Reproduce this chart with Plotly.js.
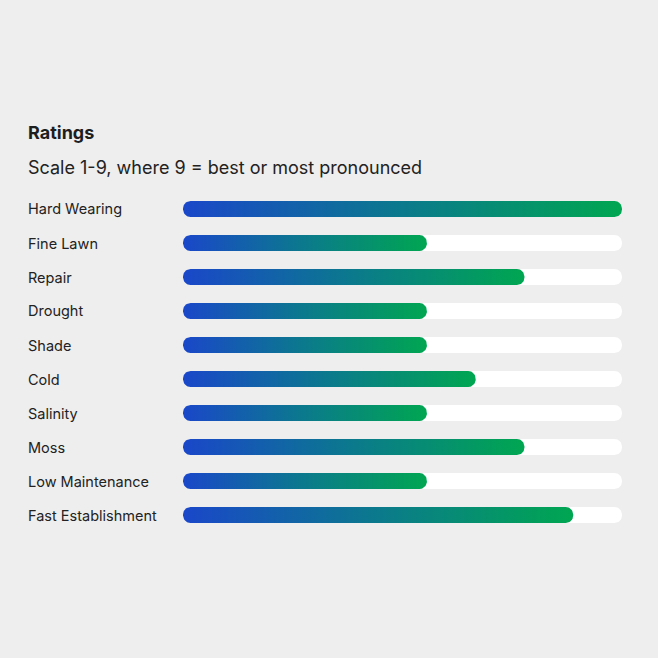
<!DOCTYPE html>
<html>
<head>
<meta charset="utf-8">
<script src="https://cdn.plot.ly/plotly-3.0.1.min.js"></script>
<style>
  html, body { margin: 0; padding: 0; background: #eeeeee; }
  #chart { width: 658px; height: 658px; }
</style>
</head>
<body>
<div id="chart"></div>
<script>
// ---- data ----
const categories = ["Hard Wearing", "Fine Lawn", "Repair", "Drought", "Shade", "Cold", "Salinity", "Moss", "Low Maintenance", "Fast Establishment"];
const ratings = [9, 5, 7, 5, 5, 6, 5, 7, 5, 8];
const scaleMax = 9;
const titleText = "Ratings";
const subtitleText = "Scale 1-9, where 9 = best or most pronounced";

// ---- layout geometry ----
const W = 658, H = 658;
const margin = { l: 183, r: 36, t: 192, b: 126 };
const plotW = W - margin.l - margin.r;
const plotH = H - margin.t - margin.b;
const n = categories.length;
const pxPerX = plotW / scaleMax;
const pxPerY = plotH / n;
const barHalfPx = 8;
const radiusPx = 7.5;
const textLeftPx = 26;

// Build a rounded-rectangle outline (in data units) from 0 to value at row index i
function pill(value, i) {
  const rx = radiusPx / pxPerX, ry = radiusPx / pxPerY, hh = barHalfPx / pxPerY;
  const xs = [], ys = [];
  const steps = 12;
  const cxR = value - rx, cxL = rx;
  const cyT = i - hh + ry, cyB = i + hh - ry;
  for (let k = 0; k <= steps; k++) { const a = -Math.PI / 2 + (Math.PI / 2) * k / steps; xs.push(cxR + rx * Math.cos(a)); ys.push(cyT + ry * Math.sin(a)); }
  for (let k = 0; k <= steps; k++) { const a = (Math.PI / 2) * k / steps; xs.push(cxR + rx * Math.cos(a)); ys.push(cyB + ry * Math.sin(a)); }
  for (let k = 0; k <= steps; k++) { const a = Math.PI / 2 + (Math.PI / 2) * k / steps; xs.push(cxL + rx * Math.cos(a)); ys.push(cyB + ry * Math.sin(a)); }
  for (let k = 0; k <= steps; k++) { const a = Math.PI + (Math.PI / 2) * k / steps; xs.push(cxL + rx * Math.cos(a)); ys.push(cyT + ry * Math.sin(a)); }
  xs.push(xs[0]); ys.push(ys[0]);
  return { xs, ys };
}

const traces = [];
categories.forEach((c, i) => {
  const t = pill(scaleMax, i);
  traces.push({
    type: "scatter", mode: "lines", x: t.xs, y: t.ys, fill: "toself",
    fillcolor: "#ffffff", line: { width: 0, color: "rgba(0,0,0,0)" },
    hoverinfo: "skip", showlegend: false
  });
});
categories.forEach((c, i) => {
  const b = pill(ratings[i], i);
  traces.push({
    type: "scatter", mode: "lines", x: b.xs, y: b.ys, fill: "toself",
    fillgradient: { type: "horizontal", colorscale: [[0, "#1a47c9"], [0.5, "#0b7a8c"], [1, "#00a651"]] },
    line: { width: 0, color: "rgba(0,0,0,0)" },
    name: c, text: c + ": " + ratings[i], hoverinfo: "text", showlegend: false
  });
});

const fontFam = "Inter, 'Noto Sans', sans-serif";
const annotations = [];
categories.forEach((c, i) => {
  annotations.push({
    xref: "paper", yref: "y", x: (textLeftPx - margin.l) / plotW, y: i,
    xanchor: "left", yanchor: "middle", showarrow: false, text: c,
    font: { family: fontFam, size: 14.5, color: "#222222" }
  });
});
annotations.push({
  xref: "paper", yref: "paper", x: (textLeftPx - margin.l) / plotW, y: (H - margin.b - 132) / plotH,
  xanchor: "left", yanchor: "middle", showarrow: false, text: "<b>" + titleText + "</b>",
  font: { family: fontFam, size: 18, color: "#1e1e1e" }
});
annotations.push({
  xref: "paper", yref: "paper", x: (textLeftPx - margin.l) / plotW, y: (H - margin.b - 167) / plotH,
  xanchor: "left", yanchor: "middle", showarrow: false, text: subtitleText,
  font: { family: fontFam, size: 18, color: "#222222" }
});

const layout = {
  width: W, height: H,
  margin: margin,
  paper_bgcolor: "#eeeeee", plot_bgcolor: "#eeeeee",
  xaxis: { range: [0, scaleMax], visible: false, fixedrange: true },
  yaxis: { range: [n - 0.5, -0.5], visible: false, fixedrange: true },
  annotations: annotations,
  showlegend: false
};

Plotly.newPlot("chart", traces, layout, { displayModeBar: false, staticPlot: true });
</script>
</body>
</html>
